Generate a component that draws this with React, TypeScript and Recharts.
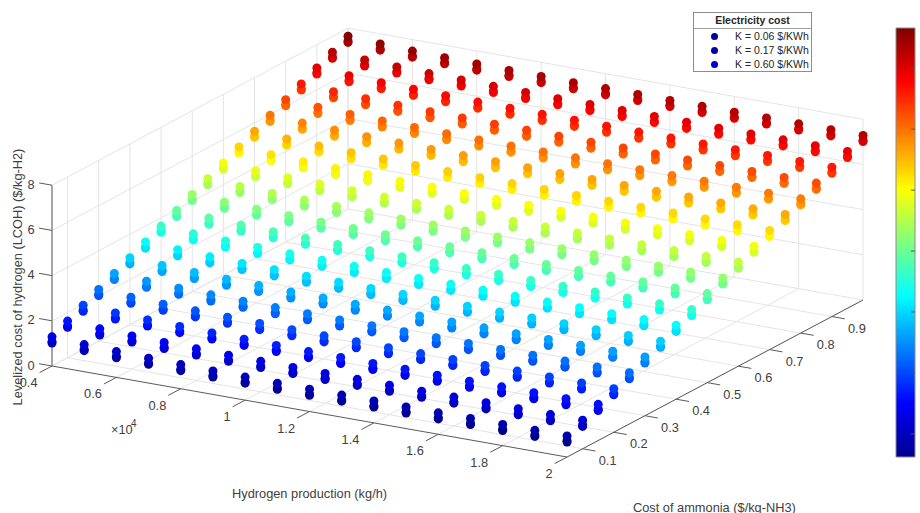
import { ReferenceArea, ReferenceLine, Legend, Scatter, ScatterChart, XAxis, YAxis } from "recharts";

const FONT = '"Liberation Sans", Arial, sans-serif';
const TEXT = "#404040";
const GRID = "#e4e4e4";
const AXIS = "#5a5a5a";

const production = [0.4, 0.5, 0.6, 0.7, 0.8, 0.9, 1, 1.1, 1.2, 1.3, 1.4, 1.5, 1.6, 1.7, 1.8, 1.9, 2];
const ammonia = [0.05, 0.1, 0.15, 0.2, 0.25, 0.3, 0.35, 0.4, 0.45, 0.5, 0.55, 0.6, 0.65, 0.7, 0.75, 0.8, 0.85, 0.9, 0.95, 1];

const xTicks = [0.4, 0.6, 0.8, 1, 1.2, 1.4, 1.6, 1.8, 2];
const yTicks = [0.1, 0.2, 0.3, 0.4, 0.5, 0.6, 0.7, 0.8, 0.9];
const zTicks = [0, 2, 4, 6, 8];
const barTicks = [1, 2, 3, 4, 5, 6, 7];

// one row per ammonia cost, one column per production
const lcohK006 = [
  [1.02, 0.93, 0.87, 0.83, 0.8, 0.77, 0.75, 0.73, 0.72, 0.71, 0.7, 0.69, 0.68, 0.68, 0.67, 0.66, 0.66],
  [1.35, 1.26, 1.2, 1.16, 1.13, 1.1, 1.08, 1.06, 1.05, 1.04, 1.03, 1.02, 1.01, 1.01, 1, 0.99, 0.99],
  [1.69, 1.6, 1.54, 1.5, 1.47, 1.44, 1.42, 1.4, 1.39, 1.38, 1.37, 1.36, 1.35, 1.35, 1.34, 1.33, 1.33],
  [2.02, 1.93, 1.87, 1.83, 1.8, 1.77, 1.75, 1.73, 1.72, 1.71, 1.7, 1.69, 1.68, 1.68, 1.67, 1.66, 1.66],
  [2.36, 2.27, 2.21, 2.17, 2.14, 2.11, 2.09, 2.07, 2.06, 2.05, 2.04, 2.03, 2.02, 2.02, 2.01, 2, 2],
  [2.69, 2.6, 2.54, 2.5, 2.47, 2.44, 2.42, 2.4, 2.39, 2.38, 2.37, 2.36, 2.35, 2.35, 2.34, 2.33, 2.33],
  [3.02, 2.93, 2.87, 2.83, 2.8, 2.77, 2.75, 2.73, 2.72, 2.71, 2.7, 2.69, 2.68, 2.68, 2.67, 2.66, 2.66],
  [3.36, 3.27, 3.21, 3.17, 3.14, 3.11, 3.09, 3.07, 3.06, 3.05, 3.04, 3.03, 3.02, 3.02, 3.01, 3, 3],
  [3.69, 3.6, 3.54, 3.5, 3.47, 3.44, 3.42, 3.4, 3.39, 3.38, 3.37, 3.36, 3.35, 3.35, 3.34, 3.33, 3.33],
  [4.03, 3.94, 3.88, 3.84, 3.81, 3.78, 3.76, 3.74, 3.73, 3.72, 3.71, 3.7, 3.69, 3.69, 3.68, 3.67, 3.67],
  [4.36, 4.27, 4.21, 4.17, 4.14, 4.11, 4.09, 4.07, 4.06, 4.05, 4.04, 4.03, 4.02, 4.02, 4.01, 4, 4],
  [4.69, 4.6, 4.54, 4.5, 4.47, 4.44, 4.42, 4.4, 4.39, 4.38, 4.37, 4.36, 4.35, 4.35, 4.34, 4.33, 4.33],
  [5.03, 4.94, 4.88, 4.84, 4.81, 4.78, 4.76, 4.74, 4.73, 4.72, 4.71, 4.7, 4.69, 4.69, 4.68, 4.67, 4.67],
  [5.36, 5.27, 5.21, 5.17, 5.14, 5.11, 5.09, 5.07, 5.06, 5.05, 5.04, 5.03, 5.02, 5.02, 5.01, 5, 5],
  [5.7, 5.61, 5.55, 5.51, 5.48, 5.45, 5.43, 5.41, 5.4, 5.39, 5.38, 5.37, 5.36, 5.36, 5.35, 5.34, 5.34],
  [6.03, 5.94, 5.88, 5.84, 5.81, 5.78, 5.76, 5.74, 5.73, 5.72, 5.71, 5.7, 5.69, 5.69, 5.68, 5.67, 5.67],
  [6.36, 6.27, 6.21, 6.17, 6.14, 6.11, 6.09, 6.07, 6.06, 6.05, 6.04, 6.03, 6.02, 6.02, 6.01, 6, 6],
  [6.7, 6.61, 6.55, 6.51, 6.48, 6.45, 6.43, 6.41, 6.4, 6.39, 6.38, 6.37, 6.36, 6.36, 6.35, 6.34, 6.34],
  [7.03, 6.94, 6.88, 6.84, 6.81, 6.78, 6.76, 6.74, 6.73, 6.72, 6.71, 6.7, 6.69, 6.69, 6.68, 6.67, 6.67],
  [7.37, 7.28, 7.22, 7.18, 7.15, 7.12, 7.1, 7.08, 7.07, 7.06, 7.05, 7.04, 7.03, 7.03, 7.02, 7.01, 7.01],
];

const lcohK017 = [
  [1.08, 0.99, 0.93, 0.89, 0.86, 0.83, 0.81, 0.79, 0.78, 0.77, 0.76, 0.75, 0.74, 0.74, 0.73, 0.72, 0.72],
  [1.41, 1.32, 1.26, 1.22, 1.19, 1.16, 1.14, 1.12, 1.11, 1.1, 1.09, 1.08, 1.07, 1.07, 1.06, 1.05, 1.05],
  [1.75, 1.66, 1.6, 1.56, 1.53, 1.5, 1.48, 1.46, 1.45, 1.44, 1.43, 1.42, 1.41, 1.41, 1.4, 1.39, 1.39],
  [2.08, 1.99, 1.93, 1.89, 1.86, 1.83, 1.81, 1.79, 1.78, 1.77, 1.76, 1.75, 1.74, 1.74, 1.73, 1.72, 1.72],
  [2.42, 2.33, 2.27, 2.23, 2.2, 2.17, 2.15, 2.13, 2.12, 2.11, 2.1, 2.09, 2.08, 2.08, 2.07, 2.06, 2.06],
  [2.75, 2.66, 2.6, 2.56, 2.53, 2.5, 2.48, 2.46, 2.45, 2.44, 2.43, 2.42, 2.41, 2.41, 2.4, 2.39, 2.39],
  [3.08, 2.99, 2.93, 2.89, 2.86, 2.83, 2.81, 2.79, 2.78, 2.77, 2.76, 2.75, 2.74, 2.74, 2.73, 2.72, 2.72],
  [3.42, 3.33, 3.27, 3.23, 3.2, 3.17, 3.15, 3.13, 3.12, 3.11, 3.1, 3.09, 3.08, 3.08, 3.07, 3.06, 3.06],
  [3.75, 3.66, 3.6, 3.56, 3.53, 3.5, 3.48, 3.46, 3.45, 3.44, 3.43, 3.42, 3.41, 3.41, 3.4, 3.39, 3.39],
  [4.09, 4, 3.94, 3.9, 3.87, 3.84, 3.82, 3.8, 3.79, 3.78, 3.77, 3.76, 3.75, 3.75, 3.74, 3.73, 3.73],
  [4.42, 4.33, 4.27, 4.23, 4.2, 4.17, 4.15, 4.13, 4.12, 4.11, 4.1, 4.09, 4.08, 4.08, 4.07, 4.06, 4.06],
  [4.75, 4.66, 4.6, 4.56, 4.53, 4.5, 4.48, 4.46, 4.45, 4.44, 4.43, 4.42, 4.41, 4.41, 4.4, 4.39, 4.39],
  [5.09, 5, 4.94, 4.9, 4.87, 4.84, 4.82, 4.8, 4.79, 4.78, 4.77, 4.76, 4.75, 4.75, 4.74, 4.73, 4.73],
  [5.42, 5.33, 5.27, 5.23, 5.2, 5.17, 5.15, 5.13, 5.12, 5.11, 5.1, 5.09, 5.08, 5.08, 5.07, 5.06, 5.06],
  [5.76, 5.67, 5.61, 5.57, 5.54, 5.51, 5.49, 5.47, 5.46, 5.45, 5.44, 5.43, 5.42, 5.42, 5.41, 5.4, 5.4],
  [6.09, 6, 5.94, 5.9, 5.87, 5.84, 5.82, 5.8, 5.79, 5.78, 5.77, 5.76, 5.75, 5.75, 5.74, 5.73, 5.73],
  [6.42, 6.33, 6.27, 6.23, 6.2, 6.17, 6.15, 6.13, 6.12, 6.11, 6.1, 6.09, 6.08, 6.08, 6.07, 6.06, 6.06],
  [6.76, 6.67, 6.61, 6.57, 6.54, 6.51, 6.49, 6.47, 6.46, 6.45, 6.44, 6.43, 6.42, 6.42, 6.41, 6.4, 6.4],
  [7.09, 7, 6.94, 6.9, 6.87, 6.84, 6.82, 6.8, 6.79, 6.78, 6.77, 6.76, 6.75, 6.75, 6.74, 6.73, 6.73],
  [7.43, 7.34, 7.28, 7.24, 7.21, 7.18, 7.16, 7.14, 7.13, 7.12, 7.11, 7.1, 7.09, 7.09, 7.08, 7.07, 7.07],
];

const lcohK060 = [
  [1.29, 1.2, 1.14, 1.1, 1.07, 1.04, 1.02, 1, 0.99, 0.98, 0.97, 0.96, 0.95, 0.95, 0.94, 0.93, 0.93],
  [1.62, 1.53, 1.47, 1.43, 1.4, 1.37, 1.35, 1.33, 1.32, 1.31, 1.3, 1.29, 1.28, 1.28, 1.27, 1.26, 1.26],
  [1.96, 1.87, 1.81, 1.77, 1.74, 1.71, 1.69, 1.67, 1.66, 1.65, 1.64, 1.63, 1.62, 1.62, 1.61, 1.6, 1.6],
  [2.29, 2.2, 2.14, 2.1, 2.07, 2.04, 2.02, 2, 1.99, 1.98, 1.97, 1.96, 1.95, 1.95, 1.94, 1.93, 1.93],
  [2.63, 2.54, 2.48, 2.44, 2.41, 2.38, 2.36, 2.34, 2.33, 2.32, 2.31, 2.3, 2.29, 2.29, 2.28, 2.27, 2.27],
  [2.96, 2.87, 2.81, 2.77, 2.74, 2.71, 2.69, 2.67, 2.66, 2.65, 2.64, 2.63, 2.62, 2.62, 2.61, 2.6, 2.6],
  [3.29, 3.2, 3.14, 3.1, 3.07, 3.04, 3.02, 3, 2.99, 2.98, 2.97, 2.96, 2.95, 2.95, 2.94, 2.93, 2.93],
  [3.63, 3.54, 3.48, 3.44, 3.41, 3.38, 3.36, 3.34, 3.33, 3.32, 3.31, 3.3, 3.29, 3.29, 3.28, 3.27, 3.27],
  [3.96, 3.87, 3.81, 3.77, 3.74, 3.71, 3.69, 3.67, 3.66, 3.65, 3.64, 3.63, 3.62, 3.62, 3.61, 3.6, 3.6],
  [4.3, 4.21, 4.15, 4.11, 4.08, 4.05, 4.03, 4.01, 4, 3.99, 3.98, 3.97, 3.96, 3.96, 3.95, 3.94, 3.94],
  [4.63, 4.54, 4.48, 4.44, 4.41, 4.38, 4.36, 4.34, 4.33, 4.32, 4.31, 4.3, 4.29, 4.29, 4.28, 4.27, 4.27],
  [4.96, 4.87, 4.81, 4.77, 4.74, 4.71, 4.69, 4.67, 4.66, 4.65, 4.64, 4.63, 4.62, 4.62, 4.61, 4.6, 4.6],
  [5.3, 5.21, 5.15, 5.11, 5.08, 5.05, 5.03, 5.01, 5, 4.99, 4.98, 4.97, 4.96, 4.96, 4.95, 4.94, 4.94],
  [5.63, 5.54, 5.48, 5.44, 5.41, 5.38, 5.36, 5.34, 5.33, 5.32, 5.31, 5.3, 5.29, 5.29, 5.28, 5.27, 5.27],
  [5.97, 5.88, 5.82, 5.78, 5.75, 5.72, 5.7, 5.68, 5.67, 5.66, 5.65, 5.64, 5.63, 5.63, 5.62, 5.61, 5.61],
  [6.3, 6.21, 6.15, 6.11, 6.08, 6.05, 6.03, 6.01, 6, 5.99, 5.98, 5.97, 5.96, 5.96, 5.95, 5.94, 5.94],
  [6.63, 6.54, 6.48, 6.44, 6.41, 6.38, 6.36, 6.34, 6.33, 6.32, 6.31, 6.3, 6.29, 6.29, 6.28, 6.27, 6.27],
  [6.97, 6.88, 6.82, 6.78, 6.75, 6.72, 6.7, 6.68, 6.67, 6.66, 6.65, 6.64, 6.63, 6.63, 6.62, 6.61, 6.61],
  [7.3, 7.21, 7.15, 7.11, 7.08, 7.05, 7.03, 7.01, 7, 6.99, 6.98, 6.97, 6.96, 6.96, 6.95, 6.94, 6.94],
  [7.64, 7.55, 7.49, 7.45, 7.42, 7.39, 7.37, 7.35, 7.34, 7.33, 7.32, 7.31, 7.3, 7.3, 7.29, 7.28, 7.28],
];

const seriesNames = ["K = 0.06 $/KWh", "K = 0.17 $/KWh", "K = 0.60 $/KWh"];
const seriesTables = [lcohK006, lcohK017, lcohK060];
const legendColors = ["#00009c", "#0000a4", "#0000c8"];

const xMin = 0.4;
const xMax = 2;
const yMin = 0.05;
const yMax = 1;
const zMax = 8;
const colorMin = 0.62;
const colorMax = 7.66;

// fixed MATLAB-style view: data units -> picture pixels
function project(x: number, y: number, z: number) {
  return {
    px: 52 + (x - xMin) * 321.9 + (y - yMin) * 311.6,
    py: 366 + (x - xMin) * 56.9 - (y - yMin) * 165.3 - z * 22.6,
  };
}

function jet(value: number) {
  const t = (value - colorMin) / (colorMax - colorMin);
  const channel = (center: number) =>
    Math.round(255 * Math.max(0, Math.min(1, 1.5 - Math.abs(4 * t - center))));
  return `rgb(${channel(3)},${channel(2)},${channel(1)})`;
}

const barTop = 28;
const barBottom = 457;
const barY = (z: number) => barBottom - ((z - colorMin) / (colorMax - colorMin)) * (barBottom - barTop);

function seriesPoints(table: number[][]) {
  return table.flatMap((row, rowIndex) =>
    row.map((z, colIndex) => ({
      ...project(production[colIndex], ammonia[rowIndex], z),
      color: jet(z),
    })),
  );
}

type Seg = { a: { px: number; py: number }; b: { px: number; py: number }; stroke: string; width?: number };

const gridSegments: Seg[] = [
  ...xTicks.flatMap((x) => [
    { a: project(x, yMin, 0), b: project(x, yMax, 0), stroke: GRID },
    { a: project(x, yMax, 0), b: project(x, yMax, zMax), stroke: GRID },
  ]),
  ...yTicks.flatMap((y) => [
    { a: project(xMin, y, 0), b: project(xMax, y, 0), stroke: GRID },
    { a: project(xMin, y, 0), b: project(xMin, y, zMax), stroke: GRID },
  ]),
  ...zTicks.flatMap((z) => [
    { a: project(xMin, yMin, z), b: project(xMin, yMax, z), stroke: GRID },
    { a: project(xMin, yMax, z), b: project(xMax, yMax, z), stroke: GRID },
  ]),
  { a: project(xMin, yMax, 0), b: project(xMin, yMax, zMax), stroke: GRID },
];

const axisSegments: Seg[] = [
  { a: project(xMin, yMin, 0), b: project(xMax, yMin, 0), stroke: AXIS },
  { a: project(xMax, yMin, 0), b: project(xMax, yMax, 0), stroke: AXIS },
  { a: project(xMin, yMin, 0), b: project(xMin, yMin, zMax), stroke: "#8f8f8f", width: 1.6 },
  ...xTicks.map((x) => ({ a: project(x, yMin, 0), b: project(x, yMin - 0.04, 0), stroke: AXIS })),
  ...yTicks.map((y) => ({ a: project(xMax, y, 0), b: project(xMax + 0.04, y, 0), stroke: AXIS })),
  ...zTicks.map((z) => ({ a: project(xMin, yMin, z), b: project(xMin - 0.04, yMin, z), stroke: AXIS })),
];

type Label = { px: number; py: number; text: string; anchor?: string; size?: number; rotate?: boolean };

const labels: Label[] = [
  ...xTicks.map((x) => {
    const p = project(x, yMin, 0);
    return { px: p.px - 14.5, py: p.py + 16.5, text: String(x), anchor: "end" };
  }),
  ...yTicks.map((y) => {
    const p = project(xMax, y, 0);
    return { px: p.px + 25, py: p.py + 11.5, text: String(y) };
  }),
  ...zTicks.map((z) => {
    const p = project(xMin, yMin, z);
    return { px: 31, py: p.py - 1, text: String(z) };
  }),
  { px: 111, py: 429, text: "×10", anchor: "start" },
  { px: 131, py: 423, text: "4", anchor: "start", size: 10 },
  { px: 232, py: 493, text: "Hydrogen production (kg/h)", anchor: "start" },
  { px: 633, py: 507, text: "Cost of ammonia ($/kg-NH3)", anchor: "start" },
  { px: 17, py: 277, text: "Levelized cost of hydrogen (LCOH) ($/kg-H2)", rotate: true },
];

function TextMark(props: any) {
  const item = props.payload as Label;
  return (
    <text
      x={props.cx}
      y={props.cy}
      textAnchor={item.anchor ?? "middle"}
      dominantBaseline="central"
      fontFamily={FONT}
      fontSize={item.size ?? 12.8}
      fill={TEXT}
      transform={item.rotate ? `rotate(-90 ${props.cx} ${props.cy})` : undefined}
    >
      {item.text}
    </text>
  );
}

function Dot(props: any) {
  return <circle cx={props.cx} cy={props.cy} r={4.5} fill={props.payload.color} />;
}

function CostLegend({ payload }: any) {
  return (
    <div
      style={{
        width: 119,
        height: 60,
        boxSizing: "border-box",
        border: "1px solid #8c8c8c",
        background: "#fff",
        fontFamily: FONT,
        color: "#262626",
      }}
    >
      <div
        style={{
          height: 15,
          lineHeight: "15px",
          borderBottom: "1px solid #a0a0a0",
          textAlign: "center",
          fontSize: 10.5,
          fontWeight: "bold",
        }}
      >
        Electricity cost
      </div>
      {(payload ?? []).map((entry: any, index: number) => (
        <div key={entry.value} style={{ display: "flex", alignItems: "center", height: 14, fontSize: 10.5 }}>
          <span
            style={{
              width: 7,
              height: 7,
              marginLeft: 17,
              borderRadius: "50%",
              background: legendColors[index],
            }}
          />
          <span style={{ marginLeft: 17, whiteSpace: "nowrap" }}>{entry.value}</span>
        </div>
      ))}
    </div>
  );
}

export default function App() {
  return (
    <div style={{ position: "absolute", left: 0, top: 0, width: 920, height: 513 }}>
      <ScatterChart width={920} height={513} margin={{ top: 0, right: 0, bottom: 0, left: 0 }}>
        <defs>
          <linearGradient id="jetBar" x1="0" y1="0" x2="0" y2="1">
            <stop offset="0" stopColor="#800000" />
            <stop offset="0.125" stopColor="#ff0000" />
            <stop offset="0.375" stopColor="#ffff00" />
            <stop offset="0.625" stopColor="#00ffff" />
            <stop offset="0.875" stopColor="#0000ff" />
            <stop offset="1" stopColor="#00008f" />
          </linearGradient>
        </defs>
        <XAxis type="number" dataKey="px" domain={[0, 920]} hide />
        <YAxis type="number" dataKey="py" domain={[0, 513]} reversed hide />
        {[...gridSegments, ...axisSegments].map((seg, index) => (
          <ReferenceLine
            key={index}
            segment={[
              { x: seg.a.px, y: seg.a.py },
              { x: seg.b.px, y: seg.b.py },
            ]}
            stroke={seg.stroke}
            strokeWidth={seg.width ?? 1}
          />
        ))}
        <ReferenceArea
          x1={896}
          x2={915}
          y1={barTop}
          y2={barBottom}
          fill="url(#jetBar)"
          fillOpacity={1}
          stroke="#8c8c8c"
          strokeWidth={1}
        />
        {barTicks.map((tick) => (
          <ReferenceLine
            key={tick}
            segment={[
              { x: 911, y: barY(tick) },
              { x: 915, y: barY(tick) },
            ]}
            stroke="#555"
          />
        ))}
        {seriesTables.map((table, index) => (
          <Scatter
            key={seriesNames[index]}
            name={seriesNames[index]}
            data={seriesPoints(table)}
            fill={legendColors[index]}
            shape={Dot}
            isAnimationActive={false}
          />
        ))}
        <Scatter data={labels} shape={TextMark} legendType="none" isAnimationActive={false} />
        <Legend
          layout="horizontal"
          verticalAlign="middle"
          content={<CostLegend />}
          wrapperStyle={{ left: 693, top: 12, width: 119 }}
        />
      </ScatterChart>
    </div>
  );
}
